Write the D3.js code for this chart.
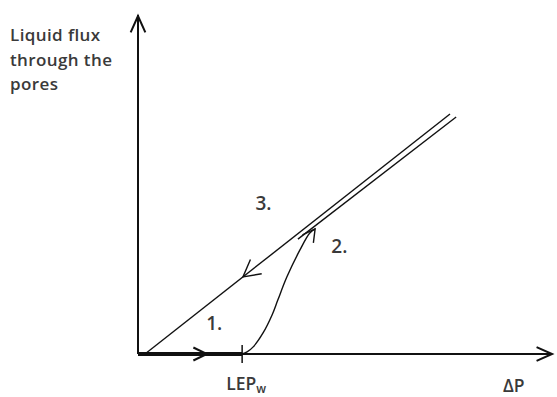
<!DOCTYPE html>
<html>
<head>
<meta charset="utf-8">
<script src="https://cdn.jsdelivr.net/npm/d3@7"></script>
<style>
  body { margin: 0; background: #fff; }
  text { font-family: "Open Sans", Lato, sans-serif; fill: #3a3a3a; font-weight: 600; }
</style>
</head>
<body>
<svg id="chart" width="557" height="397"></svg>
<script>
// sketch values, in abstract units (ΔP on x, flux on y, both 0..10)
const lepW = 2.54;
const flatSegment = [[0, 0], [lepW, 0]];
const breakthroughCurve = [[lepW, 0], [2.66, 0.06], [2.81, 0.21], [3.05, 0.62], [3.27, 1.15],
  [3.41, 1.59], [3.63, 2.27], [3.95, 3.07], [4.19, 3.57], [4.32, 3.69]];
const upperLine = [[0.17, 0], [7.61, 7.08]];
const lowerLine = [[3.90, 3.39], [7.76, 6.99]];
const stepLabels = ["1.", "2.", "3."];
const stepPos = [[1.86, 0.72], [4.91, 2.97], [3.06, 4.25]];

const width = 557, height = 397;
const svg = d3.select('#chart');

const x = d3.scaleLinear().domain([0, 10]).range([138, 548]);
const y = d3.scaleLinear().domain([0, 10]).range([354, 15]);

const line = d3.line().x(d => x(d[0])).y(d => y(d[1]));
const curve = d3.line().x(d => x(d[0])).y(d => y(d[1])).curve(d3.curveCatmullRom);

// open "->" arrowhead drawn at a point, pointing along angle
function arrowHead(px, py, ang, len, spread, w) {
  const a1 = ang + Math.PI - spread, a2 = ang + Math.PI + spread;
  svg.append('path')
    .attr('d', `M${px + len * Math.cos(a1)},${py + len * Math.sin(a1)} L${px},${py} L${px + len * Math.cos(a2)},${py + len * Math.sin(a2)}`)
    .attr('fill', 'none').attr('stroke', '#111').attr('stroke-width', w);
}

// axes
svg.append('line').attr('x1', x(0)).attr('y1', y(0)).attr('x2', x(0)).attr('y2', y(10))
  .attr('stroke', '#111').attr('stroke-width', 2);
svg.append('line').attr('x1', x(0)).attr('y1', y(0)).attr('x2', x(10.1)).attr('y2', y(0))
  .attr('stroke', '#111').attr('stroke-width', 2);
arrowHead(x(0), y(10) + 1, -Math.PI / 2, 18, 0.42, 2);
arrowHead(x(10.1), y(0), 0, 17, 0.42, 2);

// thick flat segment up to LEP
svg.append('path').datum(flatSegment).attr('d', line)
  .attr('stroke', '#111').attr('stroke-width', 4).attr('fill', 'none');
arrowHead(x(1.68), y(0), 0, 15, 0.45, 2);
// LEP tick
svg.append('line').attr('x1', x(lepW)).attr('x2', x(lepW)).attr('y1', y(0) - 9).attr('y2', y(0) + 9)
  .attr('stroke', '#111').attr('stroke-width', 1.5);

// diagonal lines
svg.append('path').datum(upperLine).attr('d', line)
  .attr('stroke', '#111').attr('stroke-width', 1.4).attr('fill', 'none');
svg.append('path').datum(lowerLine).attr('d', line)
  .attr('stroke', '#111').attr('stroke-width', 1.4).attr('fill', 'none');

// breakthrough curve
svg.append('path').datum(breakthroughCurve).attr('d', curve)
  .attr('stroke', '#111').attr('stroke-width', 1.4).attr('fill', 'none');

// arrow at the top of curve (pointing up-right)
{
  const n = breakthroughCurve.length;
  const p = breakthroughCurve[n - 1], q = breakthroughCurve[n - 3];
  const ang = Math.atan2(y(p[1]) - y(q[1]), x(p[0]) - x(q[0]));
  arrowHead(x(p[0]), y(p[1]), ang, 14, 0.5, 1.4);
}
// arrow on the upper line pointing back down-left
{
  const ang = Math.atan2(y(upperLine[0][1]) - y(upperLine[1][1]), x(upperLine[0][0]) - x(upperLine[1][0]));
  const t = 2.56;
  const py = y(upperLine[0][1] + (t - upperLine[0][0]) * (upperLine[1][1] - upperLine[0][1]) / (upperLine[1][0] - upperLine[0][0]));
  arrowHead(x(t), py, ang, 19, 0.5, 1.4);
}

// step labels
svg.selectAll('text.step').data(stepLabels).enter().append('text')
  .attr('class', 'step')
  .attr('x', (d, i) => x(stepPos[i][0]))
  .attr('y', (d, i) => y(stepPos[i][1]))
  .attr('text-anchor', 'middle')
  .attr('font-size', 19)
  .text(d => d);

// axis titles
const yTitle = svg.append('text').attr('x', 10).attr('y', 41).attr('font-size', 17)
  .attr('letter-spacing', 0.4);
['Liquid flux', 'through the', 'pores'].forEach((s, i) => {
  yTitle.append('tspan').attr('x', 10).attr('dy', i === 0 ? 0 : 24.5).text(s);
});

const lep = svg.append('text').attr('x', x(lepW) - 16).attr('y', 390).attr('font-size', 17.5);
lep.append('tspan').text('LEP');
lep.append('tspan').attr('font-size', 12).attr('dy', 3).text('w');

svg.append('text').attr('x', 503).attr('y', 392).attr('font-size', 17.5).text('ΔP');
</script>
</body>
</html>
